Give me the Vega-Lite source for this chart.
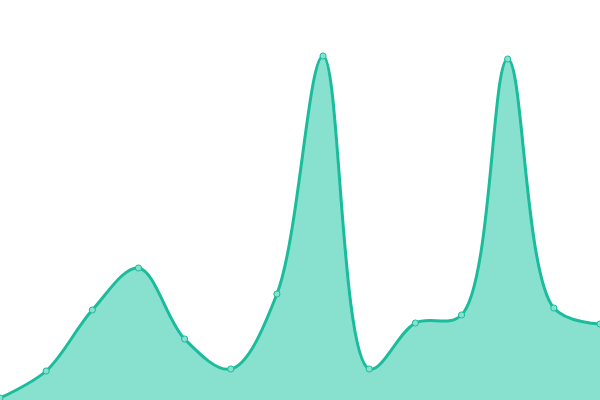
{
  "$schema": "https://vega.github.io/schema/vega-lite/v6.json",
  "width": 600,
  "height": 400,
  "autosize": {"type": "none"},
  "padding": 0,
  "background": "white",
  "view": {"stroke": null},
  "data": {
    "values": [
      {"i": 0, "v": 2},
      {"i": 1, "v": 29},
      {"i": 2, "v": 90},
      {"i": 3, "v": 132},
      {"i": 4, "v": 61},
      {"i": 5, "v": 31},
      {"i": 6, "v": 106},
      {"i": 7, "v": 344},
      {"i": 8, "v": 31},
      {"i": 9, "v": 77},
      {"i": 10, "v": 85},
      {"i": 11, "v": 341},
      {"i": 12, "v": 92},
      {"i": 13, "v": 76}
    ]
  },
  "encoding": {
    "x": {"field": "i", "type": "quantitative", "axis": null, "scale": {"domain": [0, 13], "nice": false, "zero": false}},
    "y": {"field": "v", "type": "quantitative", "axis": null, "scale": {"domain": [0, 400], "nice": false}}
  },
  "layer": [
    {"mark": {"type": "area", "interpolate": "catmull-rom", "color": "#88e0cf", "opacity": 1}},
    {"mark": {"type": "line", "interpolate": "catmull-rom", "color": "#1abc9c", "strokeWidth": 3}},
    {"mark": {"type": "point", "filled": true, "fill": "#88e0cf", "stroke": "#1abc9c", "strokeWidth": 1, "size": 38, "opacity": 1}}
  ]
}
